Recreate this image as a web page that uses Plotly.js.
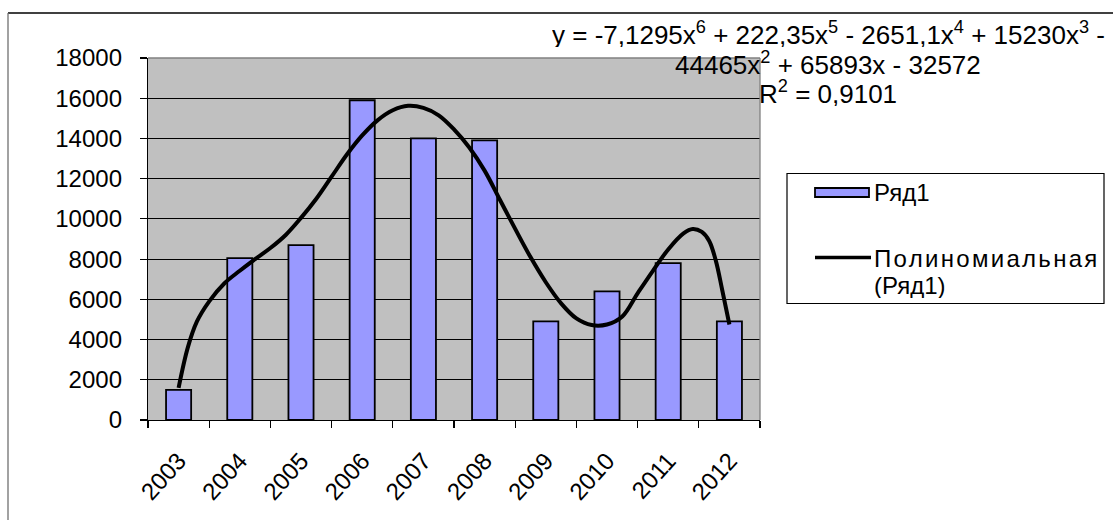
<!DOCTYPE html>
<html>
<head>
<meta charset="utf-8">
<script src="https://cdn.plot.ly/plotly-3.0.1.min.js"></script>
<style>
html,body{margin:0;padding:0;background:#fff;}
#chart{width:1113px;height:520px;}
</style>
</head>
<body>
<div id="chart"></div>
<script>
// ---- data ----
var years = ['2003','2004','2005','2006','2007','2008','2009','2010','2011','2012'];
var values = [1500, 8050, 8700, 15900, 14000, 13900, 4900, 6400, 7800, 4900];
// trend curve (6th-order polynomial): position in category units (0 = 2003)
var trendPos = [0.0, 0.15, 0.3, 0.5, 0.75, 1.0, 1.25, 1.5, 1.75, 2.0, 2.25, 2.5, 2.75, 3.0, 3.25, 3.5, 3.75, 4.0, 4.25, 4.5, 4.75, 5.0, 5.25, 5.5, 5.75, 6.0, 6.25, 6.5, 6.75, 7.0, 7.25, 7.5, 7.75, 8.0, 8.25, 8.4, 8.55, 8.67, 8.78, 8.88, 9.0];
var trendVal = [1600, 3600, 4900, 5900, 6800, 7420, 8000, 8550, 9200, 10050, 11000, 12100, 13200, 14150, 14900, 15400, 15620, 15520, 15150, 14450, 13550, 12400, 10950, 9500, 8100, 6850, 5800, 5050, 4720, 4750, 5150, 6300, 7420, 8480, 9280, 9500, 9350, 8900, 7900, 6500, 4750];
var yTicks = [0, 2000, 4000, 6000, 8000, 10000, 12000, 14000, 16000, 18000];
var seriesName = 'Ряд1';
var trendName1 = 'Полиномиальная';
var trendName2 = '(Ряд1)';
var eqLine1 = 'y = -7,1295x<sup>6</sup> + 222,35x<sup>5</sup> - 2651,1x<sup>4</sup> + 15230x<sup>3</sup> -';
var eqLine2 = '44465x<sup>2</sup> + 65893x - 32572';
var eqLine3 = 'R<sup>2</sup> = 0,9101';

// ---- geometry (pixels) ----
var W = 1113, H = 520;
var L = 148, R = 760, T = 58, B = 420;
function px(x){ return (x - L) / (R - L); }
function py(y){ return (B - y) / (B - T); }

var FONT = '"Liberation Sans", Arial, sans-serif';

var traces = [
  {
    type: 'bar', x: years, y: values, name: seriesName,
    marker: {color: '#9999ff', line: {color: '#000', width: 1.8}},
    hoverinfo: 'x+y', showlegend: false
  },
  {
    type: 'scatter', mode: 'lines', xaxis: 'x2', yaxis: 'y',
    x: trendPos, y: trendVal, name: trendName1 + ' ' + trendName2,
    line: {color: '#000', width: 4, shape: 'spline', smoothing: 1.0},
    showlegend: false, hoverinfo: 'skip'
  }
];

var shapes = [
  // chart frame: top and left
  {type:'line', xref:'paper', yref:'paper', x0:px(8), x1:px(W+5), y0:py(13), y1:py(13), line:{color:'#000', width:1.3}},
  {type:'line', xref:'paper', yref:'paper', x0:px(8), x1:px(8), y0:py(13), y1:py(H+5), line:{color:'#707070', width:1.3}},
  // plot area border (top and right grey)
  {type:'line', xref:'paper', yref:'paper', x0:0, x1:1, y0:1, y1:1, line:{color:'#808080', width:1.3}},
  {type:'line', xref:'paper', yref:'paper', x0:1, x1:1, y0:0, y1:1, line:{color:'#808080', width:1.3}},
  // legend box
  {type:'rect', xref:'paper', yref:'paper', x0:px(787), x1:px(1104), y0:py(173.5), y1:py(303.5), line:{color:'#000', width:1.2}, fillcolor:'#fff', layer:'above'},
  // legend swatch for bars
  {type:'rect', xref:'paper', yref:'paper', x0:px(815), x1:px(869), y0:py(188), y1:py(197), line:{color:'#000', width:1.8}, fillcolor:'#9999ff', layer:'above'},
  // legend swatch for trend line
  {type:'line', xref:'paper', yref:'paper', x0:px(815), x1:px(871), y0:py(257.5), y1:py(257.5), line:{color:'#000', width:3.6}, layer:'above'}
];

var annFont = {family: FONT, size: 24, color: '#000'};
var eqFont = {family: FONT, size: 26, color: '#000'};
var annotations = [
  {xref:'paper', yref:'paper', x:px(872), y:py(192.5), xanchor:'left', yanchor:'middle', text:seriesName, showarrow:false, font:annFont},
  {xref:'paper', yref:'paper', x:px(872), y:py(258), xanchor:'left', yanchor:'middle', text:'<span style="letter-spacing:2.3px">' + trendName1 + '</span>', showarrow:false, font:annFont, height:26},
  {xref:'paper', yref:'paper', x:px(872), y:py(285), xanchor:'left', yanchor:'middle', text:trendName2, showarrow:false, font:annFont, height:26},
  {xref:'paper', yref:'paper', x:px(828), y:py(34), xanchor:'center', yanchor:'middle', text:eqLine1, showarrow:false, font:eqFont, height:27},
  {xref:'paper', yref:'paper', x:px(828), y:py(63), xanchor:'center', yanchor:'middle', text:eqLine2, showarrow:false, font:eqFont, height:27},
  {xref:'paper', yref:'paper', x:px(828), y:py(92), xanchor:'center', yanchor:'middle', text:eqLine3, showarrow:false, font:eqFont, height:27}
];

var layout = {
  width: W, height: H,
  margin: {l: L, r: W - R, t: T, b: H - B, pad: 0},
  paper_bgcolor: '#fff',
  plot_bgcolor: '#c0c0c0',
  font: {family: FONT, size: 24, color: '#000'},
  bargap: 0.59,
  showlegend: false,
  xaxis: {
    type: 'category', tickson: 'boundaries',
    ticks: 'outside', ticklen: 7, tickwidth: 1.2, tickcolor: '#000',
    showline: true, linecolor: '#000', linewidth: 1.2,
    showgrid: false, zeroline: false,
    tickangle: -48, ticklabelstandoff: 16,
    tickfont: {family: FONT, size: 24, color: '#000'},
    range: [-0.5, 9.5], fixedrange: true
  },
  xaxis2: {
    overlaying: 'x', anchor: 'y', range: [-0.5, 9.5], visible: false, fixedrange: true
  },
  yaxis: {
    range: [0, 18000], tickvals: yTicks, ticktext: yTicks.map(String),
    ticks: 'outside', ticklen: 7, tickwidth: 1.2, tickcolor: '#000',
    showline: true, linecolor: '#000', linewidth: 1.2,
    showgrid: true, gridcolor: '#000', gridwidth: 1,
    zeroline: false, ticklabelstandoff: 13,
    tickfont: {family: FONT, size: 24, color: '#000'}, fixedrange: true
  },
  shapes: shapes,
  annotations: annotations
};

Plotly.newPlot('chart', traces, layout, {displayModeBar: false, staticPlot: true});
</script>
</body>
</html>
